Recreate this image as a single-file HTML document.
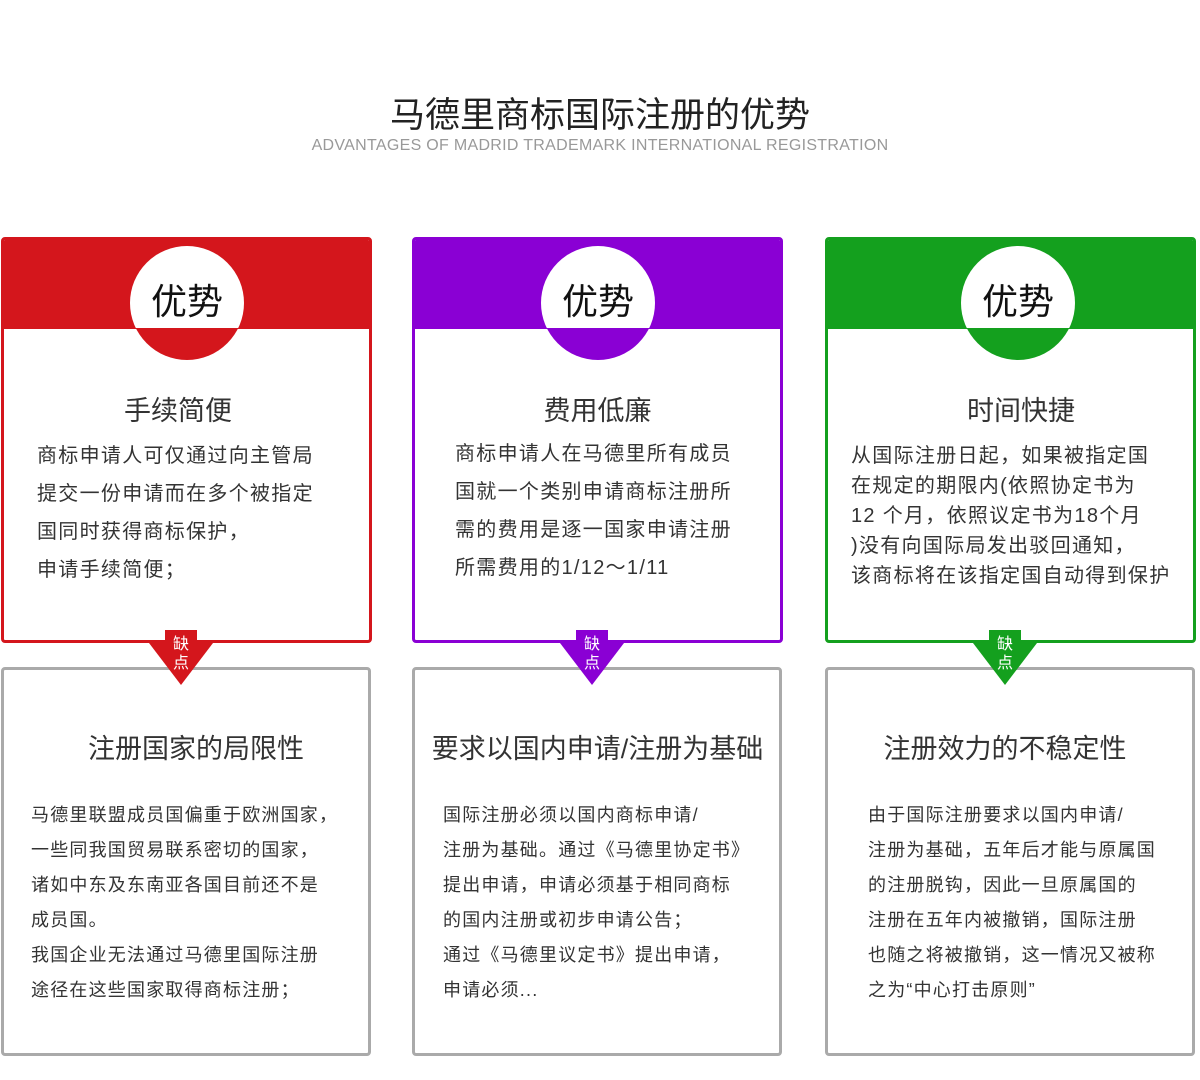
<!DOCTYPE html>
<html><head><meta charset="utf-8"><style>
*{margin:0;padding:0;box-sizing:border-box}
body{width:1200px;height:1080px;background:#fff;position:relative;overflow:hidden;font-family:"Liberation Sans","Noto Sans CJK SC",sans-serif;color:#333}
.a{position:absolute;white-space:nowrap}
.top{position:absolute;top:237px;height:406px;width:371px;border:3px solid;border-radius:4px;overflow:hidden}
.band{position:absolute;left:0;top:0;right:0;height:89px}
.circ{position:absolute;top:246px;width:114px;height:114px;border-radius:50%;text-align:center;font-size:36px;line-height:112px;color:#111}
.bot{position:absolute;top:667px;height:389px;width:370px;border:3px solid #aaa;border-radius:4px}
.tab{position:absolute;top:630px;width:32px;height:14px}
.tri{position:absolute;top:643px;width:0;height:0;border-left:32px solid transparent;border-right:32px solid transparent;border-top:42px solid}
.lbl{position:absolute;top:635px;width:32px;text-align:center;color:#fff;font-size:16px;line-height:19px}
.h{font-size:27px;color:#333}
.t1{font-size:20px;line-height:38px;color:#333;letter-spacing:1.3px}
.t3{font-size:20px;line-height:30px;color:#333;letter-spacing:1.3px}
.b{font-size:18px;line-height:35px;color:#333;letter-spacing:1.2px}
</style></head><body>
<div class="a" style="left:0;width:1200px;text-align:center;top:87px;font-size:35px;color:#222">马德里商标国际注册的优势</div>
<div class="a" style="left:0;width:1200px;text-align:center;top:137px;font-size:16px;color:#999;letter-spacing:0.3px">ADVANTAGES OF MADRID TRADEMARK INTERNATIONAL REGISTRATION</div>

<!-- col1 -->
<div class="top" style="left:1px;border-color:#d4161c"><div class="band" style="background:#d4161c"></div></div>
<div class="circ" style="left:130px;background:linear-gradient(#fff 0,#fff 82px,#d4161c 82px)">优势</div>
<div class="a h" style="left:0;width:356px;text-align:center;top:389px">手续简便</div>
<div class="a t1" style="left:37px;top:437px">商标申请人可仅通过向主管局<br>提交一份申请而在多个被指定<br>国同时获得商标保护，<br>申请手续简便；</div>
<div class="bot" style="left:1px"></div>
<div class="tri" style="left:149px;border-top-color:#d4161c"></div>
<div class="tab" style="left:165px;background:#d4161c"></div>
<div class="lbl" style="left:165px">缺<br>点</div>
<div class="a h" style="left:0;width:392px;text-align:center;top:727px">注册国家的局限性</div>
<div class="a b" style="left:31px;top:798px">马德里联盟成员国偏重于欧洲国家，<br>一些同我国贸易联系密切的国家，<br>诸如中东及东南亚各国目前还不是<br>成员国。<br>我国企业无法通过马德里国际注册<br>途径在这些国家取得商标注册；</div>

<!-- col2 -->
<div class="top" style="left:412px;border-color:#8a00d4"><div class="band" style="background:#8a00d4"></div></div>
<div class="circ" style="left:541px;background:linear-gradient(#fff 0,#fff 82px,#8a00d4 82px)">优势</div>
<div class="a h" style="left:412px;width:371px;text-align:center;top:389px">费用低廉</div>
<div class="a t1" style="left:455px;top:435px">商标申请人在马德里所有成员<br>国就一个类别申请商标注册所<br>需的费用是逐一国家申请注册<br>所需费用的1/12～1/11</div>
<div class="bot" style="left:412px"></div>
<div class="tri" style="left:560px;border-top-color:#8a00d4"></div>
<div class="tab" style="left:576px;background:#8a00d4"></div>
<div class="lbl" style="left:576px">缺<br>点</div>
<div class="a h" style="left:412px;width:371px;text-align:center;top:727px">要求以国内申请/注册为基础</div>
<div class="a b" style="left:443px;top:798px">国际注册必须以国内商标申请/<br>注册为基础。通过《马德里协定书》<br>提出申请，申请必须基于相同商标<br>的国内注册或初步申请公告；<br>通过《马德里议定书》提出申请，<br>申请必须...</div>

<!-- col3 -->
<div class="top" style="left:825px;border-color:#14a01e"><div class="band" style="background:#14a01e"></div></div>
<div class="circ" style="left:961px;background:linear-gradient(#fff 0,#fff 82px,#14a01e 82px)">优势</div>
<div class="a h" style="left:825px;width:392px;text-align:center;top:389px">时间快捷</div>
<div class="a t3" style="left:851px;top:441px">从国际注册日起，如果被指定国<br>在规定的期限内(依照协定书为<br>12 个月，依照议定书为18个月<br>)没有向国际局发出驳回通知，<br>该商标将在该指定国自动得到保护</div>
<div class="bot" style="left:825px"></div>
<div class="tri" style="left:973px;border-top-color:#14a01e"></div>
<div class="tab" style="left:989px;background:#14a01e"></div>
<div class="lbl" style="left:989px">缺<br>点</div>
<div class="a h" style="left:825px;width:360px;text-align:center;top:727px">注册效力的不稳定性</div>
<div class="a b" style="left:868px;top:798px">由于国际注册要求以国内申请/<br>注册为基础，五年后才能与原属国<br>的注册脱钩，因此一旦原属国的<br>注册在五年内被撤销，国际注册<br>也随之将被撤销，这一情况又被称<br>之为“中心打击原则”</div>
</body></html>
